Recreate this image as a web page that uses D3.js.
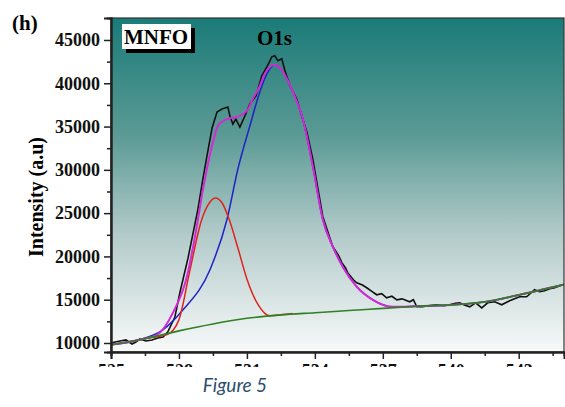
<!DOCTYPE html>
<html>
<head>
<meta charset="utf-8">
<script src="https://cdn.jsdelivr.net/npm/d3@7"></script>
<style>
  body { margin: 0; background: #fff; }
  svg { display: block; }
</style>
</head>
<body>
<script>
// binding energy (eV) / intensity pairs
var rawE = [525.0,525.18,525.4,525.66,525.93,526.1,526.28,526.54,526.81,527.07,527.3,527.51,527.82,528.04,528.4,528.84,529.06,529.23,529.46,529.68,529.9,530.16,530.25,530.38,530.51,530.69,530.91,531.13,531.4,531.66,531.88,532.0,532.1,532.23,532.37,532.54,532.68,532.9,533.2,533.45,533.65,533.91,534.35,534.79,535.05,535.19,535.35,535.45,535.7,535.85,536.1,536.29,536.5,536.73,536.95,537.17,537.4,537.62,537.85,538.19,538.35,538.5,538.76,539.0,539.38,539.7,539.95,540.2,540.4,540.6,540.84,541.1,541.37,541.63,541.94,542.25,542.6,542.82,543.04,543.35,543.7,543.92,544.14,544.37,544.59,544.94];
var rawI = [10000,10120,10230,10350,9880,10120,10460,10230,10350,10580,10700,11300,13000,15800,19800,25500,29000,31500,34800,36680,37030,37260,36220,35290,35870,34940,36220,37610,38540,40860,41900,42500,43060,43180,42600,42830,41440,39700,38190,36000,34360,31230,24620,21140,20100,19280,18700,18120,17300,16960,16700,16380,16000,15570,15700,15220,15400,14990,15100,14760,15000,14180,14180,14300,14410,14300,14410,14600,14640,14400,14180,14640,14060,14640,14760,14410,14870,15100,15340,15340,16150,15920,16030,16260,16380,16730];

var bgE = [525,526.5,528,529.5,531,532.5,534,535.5,537,538.5,540,541.5,543,545];
var bgI = [9800,10500,11400,12200,12850,13250,13500,13750,14000,14250,14400,14750,15550,16750];

var redE = [525,526.5,527.5,528,528.5,529,529.3,529.6,529.9,530.2,530.6,531,531.5,532,532.5,533];
var redI = [9800,10500,11000,12700,18600,24200,26000,26750,26200,24400,21000,17400,14400,13150,13250,13400];

var blueE = [525,526.3,527.29,528.18,529.37,530.12,530.6,531.13,531.57,531.88,532.23,532.59,533.03,533.47,533.91,534.35,534.79,535.23,535.85,536.56,537.44,538.5,540,541.5,543,545];
var blueI = [9800,10400,11510,13830,18470,24270,30070,35060,39000,41090,42130,41320,39000,35870,30420,24270,21140,18820,16500,14990,14180,14250,14400,14750,15550,16750];

var envE = [525,526.3,527.03,527.73,528.35,528.71,529.06,529.23,529.5,529.72,530.12,530.56,531.0,531.26,531.57,531.79,532.23,532.59,533.03,533.47,533.91,534.35,534.79,535.23,535.85,536.56,537.44,538.5,540,541.5,543,545];
var envI = [9800,10400,10930,13480,17660,22300,27750,30070,33200,35060,35870,36100,36800,38190,39700,41090,42130,41320,39000,35870,30420,24270,21140,18820,16500,14990,14180,14250,14400,14750,15550,16750];

var xTicks = [525,528,531,534,537,540,543];
var yTicks = [10000,15000,20000,25000,30000,35000,40000,45000];

var W = 565, H = 407;
var L = 111, R = 564, T = 18, B = 352;

var svg = d3.select("body").append("svg")
            .attr("width", W)
            .attr("height", H);

var x = d3.scaleLinear().domain([525, 545]).range([L, R]);
var y = d3.scaleLinear().domain([8960, 47540]).range([B, T]);

// background gradient of plot area
var grad = svg.append("defs").append("linearGradient")
    .attr("id", "bg").attr("x1", 0).attr("y1", 0).attr("x2", 0).attr("y2", 1);
grad.append("stop").attr("offset", "0%").attr("stop-color", "#1a7b78");
grad.append("stop").attr("offset", "35%").attr("stop-color", "#5b9a95");
grad.append("stop").attr("offset", "65%").attr("stop-color", "#b3cbca");
grad.append("stop").attr("offset", "100%").attr("stop-color", "#f8f9f9");

svg.append("rect")
    .attr("x", L).attr("y", T)
    .attr("width", R - L).attr("height", B - T)
    .attr("fill", "url(#bg)");

var clip = svg.append("clipPath").attr("id", "clip");
clip.append("rect").attr("x", L).attr("y", T).attr("width", R - L).attr("height", B - T);

function pts(E, I) { return E.map(function(d, i){ return [d, I[i]]; }); }

var smooth = d3.line().x(function(d){return x(d[0]);}).y(function(d){return y(d[1]);}).curve(d3.curveMonotoneX);
var jag = d3.line().x(function(d){return x(d[0]);}).y(function(d){return y(d[1]);});

var g = svg.append("g").attr("clip-path", "url(#clip)");

g.append("path").datum(pts(rawE, rawI))
    .attr("d", jag).attr("fill", "none")
    .attr("stroke", "#111").attr("stroke-width", 1.6);

g.append("path").datum(pts(blueE, blueI))
    .attr("d", smooth).attr("fill", "none")
    .attr("stroke", "#1f22c8").attr("stroke-width", 1.5);

g.append("path").datum(pts(redE, redI))
    .attr("d", smooth).attr("fill", "none")
    .attr("stroke", "#e0231c").attr("stroke-width", 1.5);

g.append("path").datum(pts(envE, envI))
    .attr("d", smooth).attr("fill", "none")
    .attr("stroke", "#d12bd4").attr("stroke-width", 2);

g.append("path").datum(pts(bgE, bgI))
    .attr("d", smooth).attr("fill", "none")
    .attr("stroke", "#2f7f23").attr("stroke-width", 1.6);

// frame
svg.append("rect")
    .attr("x", L).attr("y", T)
    .attr("width", R - L).attr("height", B - T)
    .attr("fill", "none").attr("stroke", "#333").attr("stroke-width", 1.2);

// axes
var yAxis = d3.axisLeft(y).tickValues(yTicks).tickSize(7).tickPadding(4).tickFormat(d3.format("d"));
var yMinor = d3.axisLeft(y).tickValues(d3.range(12500, 47500, 5000)).tickSize(4).tickFormat("");
var xAxis = d3.axisBottom(x).tickValues(xTicks).tickSize(7).tickPadding(5).tickFormat(d3.format("d"));
var xMinor = d3.axisBottom(x).tickValues(d3.range(526.5, 545, 3)).tickSize(4).tickFormat("");

function styleAxis(sel) {
  sel.select(".domain").attr("stroke", "#222").attr("stroke-width", 2);
  sel.selectAll(".tick line").attr("stroke", "#222").attr("stroke-width", 1.5);
  sel.selectAll("text")
     .attr("font-family", "'Liberation Serif', 'Times New Roman', serif")
     .attr("font-weight", "bold").attr("font-size", 18).attr("fill", "#111");
}

svg.append("g").attr("transform", "translate(" + L + ",0)").call(yMinor).call(styleAxis);
svg.append("g").attr("transform", "translate(" + L + ",0)").call(yAxis).call(styleAxis);
svg.append("g").attr("transform", "translate(0," + B + ")").call(xMinor).call(styleAxis);

// x labels: the reference is cropped just below the tick marks, so only their tops show
var cut = svg.append("svg")
    .attr("x", 0).attr("y", 0).attr("width", W).attr("height", 367)
    .attr("overflow", "hidden");
cut.append("g").attr("transform", "translate(0," + B + ")").call(xAxis).call(styleAxis);

// labels
svg.append("text")
    .attr("transform", "translate(43,197) rotate(-90)")
    .attr("text-anchor", "middle")
    .attr("font-family", "'Liberation Serif', serif")
    .attr("font-weight", "bold").attr("font-size", 20)
    .text("Intensity (a.u)");

svg.append("text")
    .attr("x", 12).attr("y", 30)
    .attr("font-family", "'Liberation Serif', serif")
    .attr("font-weight", "bold").attr("font-size", 21)
    .text("(h)");

// MNFO box with shadow
svg.append("rect").attr("x", 126).attr("y", 28).attr("width", 69).attr("height", 25).attr("fill", "#000");
svg.append("rect").attr("x", 122).attr("y", 24).attr("width", 69).attr("height", 25).attr("fill", "#fff");
svg.append("text")
    .attr("x", 156).attr("y", 44)
    .attr("text-anchor", "middle")
    .attr("font-family", "'Liberation Serif', serif")
    .attr("font-weight", "bold").attr("font-size", 21)
    .text("MNFO");

svg.append("text")
    .attr("x", 257).attr("y", 45)
    .attr("font-family", "'Liberation Serif', serif")
    .attr("font-weight", "bold").attr("font-size", 21)
    .text("O1s");

svg.append("text")
    .attr("x", 235).attr("y", 392)
    .attr("text-anchor", "middle")
    .attr("font-family", "Lato, 'Open Sans', sans-serif")
    .attr("font-style", "italic").attr("font-size", 19)
    .attr("fill", "#2d4d6e")
    .text("Figure 5");
</script>
</body>
</html>
